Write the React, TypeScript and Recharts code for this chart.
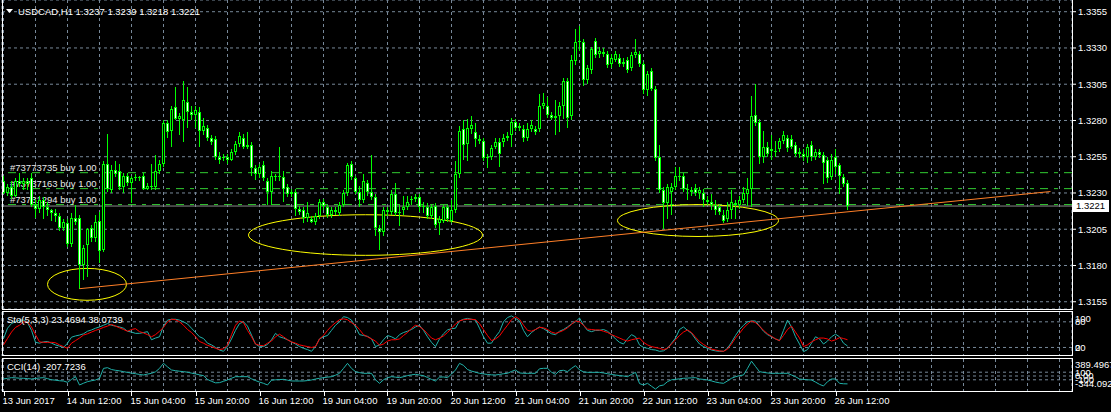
import React from 'react'
import { ComposedChart, Bar, Line, XAxis, YAxis, CartesianGrid, ReferenceLine, ReferenceArea } from 'recharts'

// USDCAD H1 candles
const opens = [
  1.3238, 1.3230, 1.3234, 1.3228, 1.3238, 1.3236, 1.3238, 1.3240, 1.3222, 1.3219,
  1.3225, 1.3220, 1.3218, 1.3216, 1.3214, 1.3206, 1.3209, 1.3195, 1.3213, 1.3213,
  1.3180, 1.3194, 1.3206, 1.3199, 1.3211, 1.3191, 1.3250, 1.3232, 1.3246, 1.3245,
  1.3234, 1.3242, 1.3237, 1.3240, 1.3241, 1.3242, 1.3233, 1.3235, 1.3234, 1.3245,
  1.3250, 1.3278, 1.3273, 1.3289, 1.3281, 1.3280, 1.3293, 1.3286, 1.3284, 1.3286,
  1.3273, 1.3275, 1.3268, 1.3267, 1.3255, 1.3254, 1.3255, 1.3253, 1.3258, 1.3264,
  1.3268, 1.3262, 1.3263, 1.3247, 1.3243, 1.3249, 1.3238, 1.3231, 1.3242, 1.3241,
  1.3241, 1.3234, 1.3229, 1.3231, 1.3219, 1.3218, 1.3213, 1.3212, 1.3210, 1.3214,
  1.3224, 1.3220, 1.3215, 1.3217, 1.3216, 1.3222, 1.3230, 1.3250, 1.3240, 1.3231,
  1.3225, 1.3237, 1.3231, 1.3227, 1.3206, 1.3203, 1.3218, 1.3217, 1.3229, 1.3216,
  1.3218, 1.3220, 1.3225, 1.3226, 1.3227, 1.3220, 1.3220, 1.3214, 1.3221, 1.3209,
  1.3211, 1.3220, 1.3211, 1.3218, 1.3243, 1.3274, 1.3264, 1.3274, 1.3272, 1.3267,
  1.3266, 1.3254, 1.3255, 1.3262, 1.3265, 1.3265, 1.3268, 1.3270, 1.3279, 1.3275,
  1.3274, 1.3268, 1.3274, 1.3274, 1.3274, 1.3290, 1.3290, 1.3284, 1.3283, 1.3283,
  1.3290, 1.3307, 1.3283, 1.3321, 1.3334, 1.3334, 1.3308, 1.3315, 1.3335, 1.3326,
  1.3327, 1.3326, 1.3319, 1.3322, 1.3323, 1.3319, 1.3322, 1.3316, 1.3325, 1.3326,
  1.3319, 1.3301, 1.3314, 1.3302, 1.3255, 1.3232, 1.3223, 1.3231, 1.3234, 1.3242,
  1.3242, 1.3233, 1.3231, 1.3233, 1.3230, 1.3230, 1.3225, 1.3224, 1.3222, 1.3220,
  1.3215, 1.3212, 1.3218, 1.3223, 1.3222, 1.3225, 1.3229, 1.3233, 1.3284, 1.3279,
  1.3255, 1.3262, 1.3259, 1.3259, 1.3260, 1.3266, 1.3268, 1.3267, 1.3263, 1.3257,
  1.3257, 1.3255, 1.3263, 1.3255, 1.3258, 1.3256, 1.3253, 1.3241, 1.3255, 1.3249,
  1.3241, 1.3237,
]
const highs = [
  1.3242, 1.3236, 1.3238, 1.3240, 1.3244, 1.3240, 1.3240, 1.3244, 1.3226, 1.3228,
  1.3227, 1.3224, 1.3219, 1.3219, 1.3216, 1.3212, 1.3212, 1.3216, 1.3222, 1.3215,
  1.3194, 1.3206, 1.3208, 1.3215, 1.3217, 1.3252, 1.3271, 1.3249, 1.3252, 1.3250,
  1.3244, 1.3244, 1.3242, 1.3243, 1.3242, 1.3244, 1.3237, 1.3250, 1.3256, 1.3253,
  1.3280, 1.3280, 1.3290, 1.3303, 1.3285, 1.3307, 1.3303, 1.3290, 1.3290, 1.3289,
  1.3282, 1.3277, 1.3270, 1.3269, 1.3258, 1.3257, 1.3257, 1.3260, 1.3266, 1.3272,
  1.3271, 1.3272, 1.3265, 1.3249, 1.3250, 1.3252, 1.3240, 1.3245, 1.3243, 1.3262,
  1.3245, 1.3236, 1.3233, 1.3233, 1.3221, 1.3220, 1.3224, 1.3214, 1.3216, 1.3226,
  1.3226, 1.3222, 1.3220, 1.3220, 1.3224, 1.3232, 1.3251, 1.3252, 1.3242, 1.3235,
  1.3243, 1.3239, 1.3256, 1.3229, 1.3208, 1.3220, 1.3220, 1.3232, 1.3237, 1.3222,
  1.3228, 1.3228, 1.3228, 1.3229, 1.3229, 1.3224, 1.3223, 1.3222, 1.3223, 1.3214,
  1.3222, 1.3222, 1.3225, 1.3252, 1.3276, 1.3280, 1.3281, 1.3283, 1.3278, 1.3270,
  1.3268, 1.3257, 1.3263, 1.3268, 1.3268, 1.3271, 1.3272, 1.3282, 1.3281, 1.3278,
  1.3277, 1.3278, 1.3280, 1.3276, 1.3298, 1.3299, 1.3296, 1.3286, 1.3294, 1.3293,
  1.3309, 1.3309, 1.3325, 1.3343, 1.3345, 1.3336, 1.3318, 1.3331, 1.3337, 1.3331,
  1.3330, 1.3328, 1.3326, 1.3328, 1.3326, 1.3323, 1.3324, 1.3327, 1.3336, 1.3328,
  1.3320, 1.3314, 1.3316, 1.3304, 1.3263, 1.3234, 1.3236, 1.3237, 1.3248, 1.3248,
  1.3244, 1.3236, 1.3234, 1.3236, 1.3234, 1.3233, 1.3228, 1.3229, 1.3225, 1.3222,
  1.3218, 1.3224, 1.3232, 1.3225, 1.3228, 1.3234, 1.3240, 1.3297, 1.3305, 1.3281,
  1.3273, 1.3265, 1.3270, 1.3266, 1.3268, 1.3273, 1.3270, 1.3270, 1.3265, 1.3261,
  1.3260, 1.3264, 1.3266, 1.3260, 1.3260, 1.3258, 1.3255, 1.3257, 1.3260, 1.3251,
  1.3243, 1.3239,
]
const lows = [
  1.3229, 1.3228, 1.3226, 1.3227, 1.3234, 1.3232, 1.3232, 1.3220, 1.3213, 1.3216,
  1.3212, 1.3214, 1.3211, 1.3210, 1.3204, 1.3204, 1.3193, 1.3193, 1.3208, 1.3164,
  1.3170, 1.3172, 1.3196, 1.3196, 1.3182, 1.3189, 1.3231, 1.3230, 1.3241, 1.3232,
  1.3230, 1.3235, 1.3223, 1.3238, 1.3238, 1.3232, 1.3232, 1.3232, 1.3232, 1.3243,
  1.3248, 1.3268, 1.3262, 1.3280, 1.3270, 1.3265, 1.3275, 1.3280, 1.3275, 1.3262,
  1.3270, 1.3266, 1.3263, 1.3253, 1.3250, 1.3252, 1.3250, 1.3252, 1.3256, 1.3262,
  1.3260, 1.3260, 1.3242, 1.3239, 1.3240, 1.3238, 1.3222, 1.3222, 1.3238, 1.3238,
  1.3224, 1.3227, 1.3227, 1.3214, 1.3215, 1.3209, 1.3210, 1.3209, 1.3208, 1.3212,
  1.3218, 1.3213, 1.3213, 1.3215, 1.3214, 1.3220, 1.3228, 1.3239, 1.3229, 1.3220,
  1.3223, 1.3228, 1.3225, 1.3200, 1.3191, 1.3200, 1.3214, 1.3215, 1.3214, 1.3207,
  1.3215, 1.3218, 1.3222, 1.3224, 1.3217, 1.3216, 1.3212, 1.3212, 1.3206, 1.3201,
  1.3209, 1.3210, 1.3209, 1.3216, 1.3240, 1.3253, 1.3252, 1.3271, 1.3262, 1.3264,
  1.3252, 1.3247, 1.3253, 1.3260, 1.3248, 1.3262, 1.3266, 1.3262, 1.3273, 1.3273,
  1.3265, 1.3266, 1.3272, 1.3270, 1.3272, 1.3288, 1.3282, 1.3280, 1.3270, 1.3272,
  1.3281, 1.3275, 1.3280, 1.3318, 1.3328, 1.3304, 1.3305, 1.3312, 1.3323, 1.3323,
  1.3324, 1.3316, 1.3316, 1.3320, 1.3317, 1.3317, 1.3313, 1.3314, 1.3323, 1.3317,
  1.3298, 1.3297, 1.3300, 1.3252, 1.3230, 1.3205, 1.3212, 1.3215, 1.3232, 1.3238,
  1.3231, 1.3225, 1.3228, 1.3228, 1.3226, 1.3220, 1.3222, 1.3218, 1.3215, 1.3215,
  1.3209, 1.3210, 1.3212, 1.3212, 1.3219, 1.3223, 1.3221, 1.3220, 1.3276, 1.3250,
  1.3251, 1.3255, 1.3253, 1.3255, 1.3258, 1.3264, 1.3258, 1.3260, 1.3255, 1.3254,
  1.3252, 1.3251, 1.3252, 1.3253, 1.3254, 1.3236, 1.3237, 1.3239, 1.3243, 1.3229,
  1.3234, 1.3218,
]
const closes = [
  1.3230, 1.3234, 1.3228, 1.3238, 1.3236, 1.3238, 1.3236, 1.3222, 1.3219, 1.3225,
  1.3220, 1.3218, 1.3216, 1.3214, 1.3206, 1.3210, 1.3195, 1.3213, 1.3210, 1.3180,
  1.3192, 1.3205, 1.3199, 1.3210, 1.3190, 1.3250, 1.3233, 1.3246, 1.3243, 1.3234,
  1.3242, 1.3237, 1.3240, 1.3241, 1.3240, 1.3233, 1.3235, 1.3234, 1.3245, 1.3250,
  1.3278, 1.3272, 1.3288, 1.3281, 1.3283, 1.3294, 1.3286, 1.3284, 1.3287, 1.3273,
  1.3276, 1.3268, 1.3265, 1.3255, 1.3253, 1.3255, 1.3253, 1.3258, 1.3264, 1.3269,
  1.3262, 1.3263, 1.3247, 1.3243, 1.3248, 1.3240, 1.3231, 1.3242, 1.3241, 1.3242,
  1.3233, 1.3229, 1.3231, 1.3219, 1.3217, 1.3213, 1.3216, 1.3210, 1.3214, 1.3224,
  1.3221, 1.3215, 1.3218, 1.3218, 1.3222, 1.3230, 1.3249, 1.3241, 1.3231, 1.3225,
  1.3238, 1.3231, 1.3227, 1.3206, 1.3203, 1.3218, 1.3217, 1.3229, 1.3216, 1.3217,
  1.3220, 1.3224, 1.3226, 1.3227, 1.3220, 1.3221, 1.3214, 1.3220, 1.3208, 1.3212,
  1.3220, 1.3212, 1.3218, 1.3243, 1.3273, 1.3263, 1.3275, 1.3277, 1.3267, 1.3266,
  1.3254, 1.3255, 1.3261, 1.3265, 1.3257, 1.3268, 1.3269, 1.3279, 1.3275, 1.3276,
  1.3268, 1.3274, 1.3277, 1.3272, 1.3290, 1.3292, 1.3284, 1.3282, 1.3282, 1.3290,
  1.3307, 1.3282, 1.3322, 1.3334, 1.3335, 1.3308, 1.3316, 1.3329, 1.3325, 1.3328,
  1.3326, 1.3318, 1.3323, 1.3326, 1.3319, 1.3320, 1.3315, 1.3325, 1.3327, 1.3319,
  1.3301, 1.3312, 1.3302, 1.3254, 1.3232, 1.3223, 1.3234, 1.3234, 1.3242, 1.3241,
  1.3233, 1.3232, 1.3232, 1.3230, 1.3232, 1.3225, 1.3224, 1.3222, 1.3218, 1.3217,
  1.3211, 1.3218, 1.3224, 1.3222, 1.3225, 1.3230, 1.3233, 1.3283, 1.3278, 1.3255,
  1.3262, 1.3257, 1.3260, 1.3258, 1.3266, 1.3270, 1.3261, 1.3262, 1.3257, 1.3258,
  1.3255, 1.3262, 1.3255, 1.3258, 1.3256, 1.3251, 1.3240, 1.3253, 1.3248, 1.3242,
  1.3236, 1.3221,
]

// Stochastic(5,3,3): main (teal) and signal (red)
const stochMain = [
  41, 65, 76, 80, 84, 84, 78, 60, 32, 30,
  33, 34, 30, 26, 23, 20, 30, 44, 47, 49,
  52, 58, 61, 65, 68, 72, 76, 72, 70, 68,
  65, 58, 56, 53, 53, 55, 57, 38, 42, 45,
  70, 84, 86, 86, 84, 80, 75, 65, 55, 45,
  41, 30, 26, 20, 14, 11, 22, 40, 60, 76,
  80, 70, 49, 28, 22, 22, 27, 38, 53, 45,
  42, 38, 33, 28, 22, 18, 15, 11, 22, 40,
  45, 48, 60, 72, 80, 92, 90, 84, 68, 50,
  48, 46, 40, 22, 26, 38, 48, 45, 40, 50,
  55, 58, 62, 68, 72, 60, 45, 32, 22, 40,
  52, 61, 64, 65, 82, 86, 88, 86, 84, 65,
  45, 30, 30, 45, 57, 80, 90, 94, 88, 82,
  60, 45, 55, 62, 68, 64, 58, 52, 50, 58,
  62, 68, 75, 80, 89, 72, 60, 57, 60, 60,
  62, 58, 50, 40, 32, 28, 40, 50, 45, 26,
  20, 18, 15, 14, 11, 12, 18, 30, 42, 62,
  68, 60, 53, 40, 28, 22, 18, 14, 12, 11,
  11, 18, 32, 48, 62, 72, 80, 82, 82, 70,
  58, 50, 45, 40, 36, 60, 84, 68, 45, 28,
  10, 15, 30, 45, 40, 28, 35, 45, 51, 45,
  30, 23.4694,
]
const stochSignal = [
  26, 41, 56, 67, 72, 80, 79, 68, 50, 33,
  32, 32, 32, 31, 26, 22, 18, 30, 36, 42,
  49, 52, 56, 60, 63, 67, 70, 74, 70, 66,
  62, 58, 62, 64, 57, 54, 50, 45, 50, 58,
  67, 80, 86, 85, 80, 72, 62, 55, 45, 34,
  30, 25, 22, 18, 15, 17, 25, 50, 72, 82,
  78, 60, 45, 28, 25, 24, 30, 35, 45, 51,
  45, 38, 33, 30, 26, 24, 22, 20, 22, 40,
  48, 60, 70, 78, 85, 87, 85, 78, 72, 62,
  50, 45, 40, 35, 25, 28, 35, 38, 38, 40,
  48, 55, 65, 72, 69, 62, 52, 42, 38, 42,
  47, 55, 65, 75, 82, 85, 86, 86, 85, 76,
  62, 48, 36, 40, 47, 60, 72, 85, 92, 86,
  72, 60, 58, 62, 67, 66, 62, 56, 53, 56,
  60, 66, 74, 82, 80, 72, 63, 62, 61, 61,
  58, 55, 50, 46, 42, 38, 35, 38, 40, 42,
  32, 26, 22, 20, 18, 15, 18, 28, 38, 48,
  56, 61, 55, 44, 34, 27, 21, 16, 14, 12,
  11, 16, 28, 42, 53, 65, 75, 82, 78, 70,
  60, 52, 46, 40, 36, 48, 62, 70, 56, 42,
  22, 26, 33, 38, 42, 42, 40, 35, 38, 43,
  41, 38.0739,
]

// CCI(14)
const cciValues = [
  -79, -60, -44, -50, -58, -61, -68, -79, -65, -52,
  -44, -70, -100, -110, -125, -132, -167, -90, -18, -237,
  -190, -149, -125, -105, -61, 200, 219, 170, 150, 135,
  114, 95, 75, 60, 40, 26, 50, 70, 110, 200,
  333, 240, 158, 140, 125, 114, 100, 75, 55, 30,
  9, -90, -140, -180, -175, -140, -105, -60, -18, -18,
  -18, -18, -75, -120, -160, -193, -237, -110, -100, -95,
  -88, -110, -130, -132, -132, -132, -120, -105, -80, -60,
  -44, -30, -18, 20, 70, 200, 333, 200, 114, 90,
  70, 70, 70, -100, -193, -100, -44, -18, -30, -44,
  -20, 10, 30, 44, 25, 9, -40, -90, -132, -30,
  -25, -44, 50, 158, 333, 280, 170, 130, 100, 70,
  55, 40, 30, 26, 40, 60, 70, 120, 158, 80,
  70, 70, 70, 70, 190, 202, 202, 100, 44, 140,
  150, 114, 200, 272, 160, 110, 96, 96, 96, 96,
  80, 60, 40, 26, 10, 0, -18, 40, 96, -200,
  -237, -193, -270, -344.0927, -260, -237, -149, -100, -88, -75,
  -61, -55, -50, -44, -79, -90, -105, -130, -160, -180,
  -193, -130, -61, -20, 10, 26, 200, 389.4967, 250, 114,
  95, 80, 70, 70, 70, 70, 70, 26, -20, -79,
  -90, -100, -105, -160, -220, -263, -150, -79, -79, -193,
  -205, -207.7236,
]

const dateLabels = [
  '13 Jun 2017', '14 Jun 12:00', '15 Jun 04:00', '15 Jun 20:00', '16 Jun 12:00',
  '19 Jun 04:00', '19 Jun 20:00', '20 Jun 12:00', '21 Jun 04:00', '21 Jun 20:00',
  '22 Jun 12:00', '23 Jun 04:00', '23 Jun 20:00', '26 Jun 12:00',
]
const priceTicks = [1.3155, 1.318, 1.3205, 1.323, 1.3255, 1.328, 1.3305, 1.333, 1.3355]
const orders = [
  { ticket: '#73773735', price: 1.3244 },
  { ticket: '#73737163', price: 1.3233 },
  { ticket: '#73731294', price: 1.3222 },
]
const bidPrice = 1.3221
const trendLine = [{ bar: 19, price: 1.3164 }, { bar: 261.75, price: 1.3231 }]
const ellipses = [
  { from: 11, to: 30.75, low: 1.3156, high: 1.3178 },
  { from: 61.25, to: 119.75, low: 1.3187, high: 1.3215 },
  { from: 153.5, to: 193.75, low: 1.32, high: 1.3222 },
]

const FONT = "'Liberation Sans', Arial, sans-serif"
const FS = 9.5
const LIME = '#00ff00'
const GRID = '#778899'
const TEAL = '#20b2aa'
const W = 1111
const X_DOMAIN = [-0.375, 267.125]
const gridBars = Array.from({ length: 34 }, (_, k) => k * 8)

const rows = closes.map((close, i) => ({
  bar: i,
  open: opens[i],
  high: highs[i],
  low: lows[i],
  close,
  range: [lows[i], highs[i]],
  k: stochMain[i],
  d: stochSignal[i],
  cci: cciValues[i],
}))

function Candle(props: any) {
  const { x, y, width, height, payload } = props
  if (!payload || height == null) return null
  const cx = Math.round(x + width / 2 - 0.5) + 0.5
  const unit = height / (payload.high - payload.low)
  const py = (p: number) => y + (payload.high - p) * unit
  const top = Math.round(py(Math.max(payload.open, payload.close)))
  const bottom = Math.round(py(Math.min(payload.open, payload.close)))
  const bull = payload.close >= payload.open
  return (
    <g shapeRendering="crispEdges">
      <line x1={cx} x2={cx} y1={Math.round(y)} y2={Math.round(y + height)} stroke={LIME} />
      {bottom - top < 2 ? (
        <line x1={cx - 1.5} x2={cx + 1.5} y1={top + 0.5} y2={top + 0.5} stroke={LIME} />
      ) : (
        <rect x={cx - 1} y={top + 0.5} width={2} height={bottom - top - 1} fill={bull ? '#000' : '#fff'} stroke={LIME} />
      )}
    </g>
  )
}

function Ring(props: any) {
  const { x, y, width, height } = props
  return (
    <ellipse cx={x + width / 2} cy={y + height / 2} rx={width / 2} ry={height / 2}
      fill="none" stroke="#ffff00" strokeWidth={1} />
  )
}

function OrderTag(props: any) {
  const { viewBox, text } = props
  if (!viewBox) return null
  return (
    <text x={viewBox.x + 8} y={viewBox.y - 2} fill="#e8e8e8" fontSize={FS} fontFamily={FONT}>{text}</text>
  )
}

function BidTag(props: any) {
  const { viewBox } = props
  if (!viewBox) return null
  const x = viewBox.x + viewBox.width + 1
  return (
    <g>
      <rect x={x} y={Math.round(viewBox.y) - 6} width={36} height={12} fill="#fff" />
      <text x={x + 3} y={viewBox.y} dy="0.35em" fill="#000" fontSize={FS} fontFamily={FONT}>{bidPrice.toFixed(4)}</text>
    </g>
  )
}

const levelTick = (lo: number, hi: number, fmt: (v: number) => string) => (props: any) => {
  const y = Math.min(Math.max(props.y, lo), hi)
  return (
    <text x={props.x} y={y} dy="0.35em" fill="#fff" fontSize={FS} fontFamily={FONT}>{fmt(props.payload.value)}</text>
  )
}

function TimeTick(props: any) {
  const { x, y, payload } = props
  const label = payload.value % 16 === 0 ? dateLabels[payload.value / 16] : undefined
  if (!label) return <g />
  return (
    <g>
      <line x1={Math.round(x) + 0.5} x2={Math.round(x) + 0.5} y1={y + 1} y2={y + 5} stroke="#fff" />
      <text x={x - 1} y={y + 13} fill="#fff" fontSize={FS} fontFamily={FONT}>{label}</text>
    </g>
  )
}

const abs = (top: number, h: number): React.CSSProperties => ({ position: 'absolute', left: 0, top, width: W, height: h })
const frame = (top: number, h: number): React.CSSProperties => ({
  position: 'absolute', left: 2, top, width: 1069, height: h, border: '1px solid #fff', pointerEvents: 'none',
})

export default function App() {
  const last = rows[rows.length - 1]
  const header = `USDCAD,H1  ${last.open.toFixed(4)} ${last.high.toFixed(4)} ${last.low.toFixed(4)} ${last.close.toFixed(4)}`
  const textStyle: React.CSSProperties = { position: 'absolute', color: '#fff', fontSize: FS, fontFamily: FONT, whiteSpace: 'pre', lineHeight: '12px' }

  return (
    <div style={{ position: 'relative', width: W, height: 412, background: '#000', overflow: 'hidden' }}>
      <style>{'body{margin:0;background:#000}'}</style>

      {/* main window, back layer: grid, axis, order lines */}
      <div style={abs(0, 310)}>
        <ComposedChart width={W} height={310} data={rows} margin={{ top: 0, right: 0, bottom: 1, left: 2 }}>
          <CartesianGrid stroke={GRID} strokeDasharray="3 3" />
          <XAxis dataKey="bar" type="number" domain={X_DOMAIN} ticks={gridBars} interval={0} hide />
          <YAxis orientation="right" width={39} domain={[1.315, 1.336307]} allowDataOverflow ticks={priceTicks}
            interval={0} axisLine={false} tickSize={4} tickMargin={2} tickLine={{ stroke: '#fff' }}
            tick={{ fill: '#fff', fontSize: FS, fontFamily: FONT }} tickFormatter={(v: number) => v.toFixed(4)} />
          {orders.map((o) => (
            <ReferenceLine key={o.ticket} y={o.price} stroke="#32cd32" strokeDasharray="8 6 4 6"
              label={<OrderTag text={`${o.ticket} buy 1.00`} />} />
          ))}
          <ReferenceLine y={bidPrice} stroke="#8c8c8c" label={<BidTag />} />
        </ComposedChart>
      </div>

      {/* main window, front layer: candles and drawn objects */}
      <div style={abs(0, 310)}>
        <ComposedChart width={W} height={310} data={rows} margin={{ top: 0, right: 39, bottom: 1, left: 2 }}>
          <XAxis dataKey="bar" type="number" domain={X_DOMAIN} hide />
          <YAxis domain={[1.315, 1.336307]} allowDataOverflow hide />
          <Bar dataKey="range" barSize={3} isAnimationActive={false} shape={(p: any) => <Candle {...p} />} />
          <ReferenceLine segment={[{ x: trendLine[0].bar, y: trendLine[0].price }, { x: trendLine[1].bar, y: trendLine[1].price }]}
            stroke="#ff7f27" strokeWidth={1} />
          {ellipses.map((e, n) => (
            <ReferenceArea key={n} x1={e.from} x2={e.to} y1={e.low} y2={e.high} shape={(p: any) => <Ring {...p} />} />
          ))}
        </ComposedChart>
      </div>

      {/* title line of the main window */}
      <svg width={210} height={20} style={{ position: 'absolute', left: 0, top: 0 }}>
        <polygon points="6,9 13,9 9.5,13" fill="#fff" />
        <text x={18} y={14.5} fill="#fff" fontSize={FS} fontFamily={FONT} textLength={182} lengthAdjust="spacing">{header}</text>
      </svg>

      {/* stochastic */}
      <div style={abs(312, 44)}>
        <ComposedChart width={W} height={44} data={rows} margin={{ top: 0, right: 0, bottom: 0, left: 2 }}>
          <CartesianGrid stroke={GRID} strokeDasharray="3 3" horizontal={false} />
          <XAxis dataKey="bar" type="number" domain={X_DOMAIN} ticks={gridBars} interval={0} hide />
          <YAxis orientation="right" width={39} domain={[0, 103]} ticks={[100, 80, 20, 0]} interval={0}
            axisLine={false} tickLine={false} tickSize={0} tickMargin={3}
            tick={levelTick(7, 36, (v) => String(v))} />
          <ReferenceLine y={80} stroke={GRID} strokeDasharray="3 3" />
          <ReferenceLine y={20} stroke={GRID} strokeDasharray="3 3" />
          <Line dataKey="k" stroke={TEAL} dot={false} strokeWidth={1} isAnimationActive={false} />
          <Line dataKey="d" stroke="#ff0000" dot={false} strokeWidth={1} isAnimationActive={false} />
        </ComposedChart>
      </div>
      <div style={{ ...textStyle, left: 7, top: 314 }}>
        {`Sto(5,3,3) ${stochMain[stochMain.length - 1].toFixed(4)} ${stochSignal[stochSignal.length - 1].toFixed(4)}`}
      </div>

      {/* CCI */}
      <div style={abs(359, 53)}>
        <ComposedChart width={W} height={53} data={rows} margin={{ top: 0, right: 0, bottom: 0, left: 2 }}>
          <CartesianGrid stroke={GRID} strokeDasharray="3 3" horizontal={false} />
          <XAxis dataKey="bar" type="number" domain={X_DOMAIN} ticks={gridBars} interval={0} height={21}
            axisLine={false} tickLine={false} tickSize={0} tickMargin={0} tick={<TimeTick />} />
          <YAxis orientation="right" width={39} domain={[-395, 447]} ticks={[389.4967, 100, 0, -100, -344.0927]}
            interval={0} axisLine={false} tickLine={false} tickSize={0} tickMargin={3}
            tick={levelTick(6, 25, (v) => (Math.abs(v) === 100 ? String(v) : v.toFixed(v === 0 ? 2 : 4)))} />
          <ReferenceLine y={100} stroke={GRID} strokeDasharray="3 3" />
          <ReferenceLine y={0} stroke={GRID} strokeDasharray="3 3" />
          <ReferenceLine y={-100} stroke={GRID} strokeDasharray="3 3" />
          <Line dataKey="cci" stroke={TEAL} dot={false} strokeWidth={1} isAnimationActive={false} />
        </ComposedChart>
      </div>
      <div style={{ ...textStyle, left: 7, top: 361 }}>
        {`CCI(14) ${cciValues[cciValues.length - 1].toFixed(4)}`}
      </div>

      <div style={frame(-1, 309)} />
      <div style={frame(311, 43)} />
      <div style={frame(358, 32)} />
    </div>
  )
}
